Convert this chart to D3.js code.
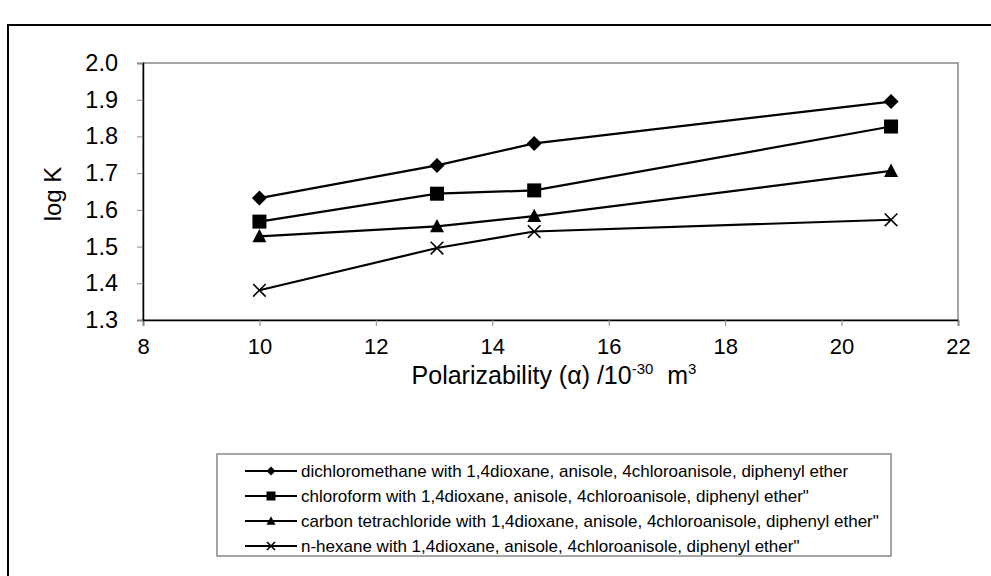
<!DOCTYPE html>
<html>
<head>
<meta charset="utf-8">
<script src="https://cdn.jsdelivr.net/npm/d3@7"></script>
<style>
  body { margin: 0; background: #fff; }
  svg { display: block; font-family: Arial, "Liberation Sans", sans-serif; }
</style>
</head>
<body>
<svg id="chart" width="991" height="576"></svg>
<script>
// Polarizability of the solute (x) against log K for each solvent system
const polarizability = [10.0, 13.05, 14.72, 20.85];
const dichloromethane = [1.632, 1.721, 1.781, 1.895];
const chloroform = [1.568, 1.644, 1.653, 1.827];
const carbonTetrachloride = [1.528, 1.555, 1.583, 1.706];
const nHexane = [1.381, 1.496, 1.541, 1.573];
const xTicks = [8, 10, 12, 14, 16, 18, 20, 22];
const yTicks = [1.3, 1.4, 1.5, 1.6, 1.7, 1.8, 1.9, 2.0];
const seriesNames = [
  "dichloromethane with 1,4dioxane, anisole, 4chloroanisole, diphenyl ether",
  "chloroform with 1,4dioxane, anisole, 4chloroanisole, diphenyl ether\"",
  "carbon tetrachloride with 1,4dioxane, anisole, 4chloroanisole, diphenyl ether\"",
  "n-hexane with 1,4dioxane, anisole, 4chloroanisole, diphenyl ether\""
];
const seriesValues = [dichloromethane, chloroform, carbonTetrachloride, nHexane];
const markerShapes = ["diamond", "square", "triangle", "cross"];

const svg = d3.select("#chart");
const plot = { left: 143, right: 958, top: 63, bottom: 320 };

const x = d3.scaleLinear().domain([8, 22]).range([plot.left, plot.right]);
const y = d3.scaleLinear().domain([1.3, 2.0]).range([plot.bottom, plot.top]);

// outer chart frame
svg.append("rect")
  .attr("x", 8).attr("y", 25).attr("width", 1000).attr("height", 600)
  .attr("fill", "none").attr("stroke", "#000").attr("stroke-width", 2);

// plot area border
svg.append("rect")
  .attr("x", plot.left).attr("y", plot.top)
  .attr("width", plot.right - plot.left).attr("height", plot.bottom - plot.top)
  .attr("fill", "none").attr("stroke", "#888").attr("stroke-width", 1.5);

// axes
const xAxis = svg.append("g")
  .attr("transform", `translate(0,${plot.bottom})`)
  .call(d3.axisBottom(x).tickValues(xTicks).tickSize(6).tickPadding(12).tickFormat(d3.format("d")));
const yAxis = svg.append("g")
  .attr("transform", `translate(${plot.left},0)`)
  .call(d3.axisLeft(y).tickValues(yTicks).tickSize(6).tickPadding(19).tickFormat(d3.format(".1f")));

[xAxis, yAxis].forEach(g => {
  g.select(".domain").attr("stroke", "#000").attr("stroke-width", 1.5);
  g.selectAll(".tick line").attr("stroke", "#888").attr("stroke-width", 1);
  g.selectAll(".tick text").attr("fill", "#000")
    .style("font-family", "Arial, 'Liberation Sans', sans-serif");
});
xAxis.selectAll(".tick text").style("font-size", "22px");
yAxis.selectAll(".tick text").style("font-size", "23.5px");

// axis titles
const xt = svg.append("text")
  .attr("x", 554).attr("y", 384)
  .attr("text-anchor", "middle").style("font-size", "25px").attr("fill", "#000");
xt.append("tspan").text("Polarizability (α) /10");
xt.append("tspan").attr("dy", -10).style("font-size", "15px").text("-30");
xt.append("tspan").attr("dy", 10).text("\u00a0\u00a0m");
xt.append("tspan").attr("dy", -10).style("font-size", "15px").text("3");

svg.append("text")
  .attr("transform", `translate(61,194) rotate(-90)`)
  .attr("text-anchor", "middle").style("font-size", "24px").attr("fill", "#000")
  .text("log K");

// marker drawing
function drawMarker(g, shape, cx, cy, s) {
  if (shape === "diamond") {
    g.append("path").attr("d", `M${cx},${cy - s}L${cx + s},${cy}L${cx},${cy + s}L${cx - s},${cy}Z`).attr("fill", "#000");
  } else if (shape === "square") {
    g.append("rect").attr("x", cx - s).attr("y", cy - s)
      .attr("width", s * 2).attr("height", s * 2).attr("fill", "#000");
  } else if (shape === "triangle") {
    g.append("path").attr("d", `M${cx},${cy - s * 1.05}L${cx + s},${cy + s * 0.85}L${cx - s},${cy + s * 0.85}Z`).attr("fill", "#000");
  } else {
    const c = s * 0.9;
    g.append("path").attr("d", `M${cx - c},${cy - c}L${cx + c},${cy + c}M${cx - c},${cy + c}L${cx + c},${cy - c}`)
      .attr("stroke", "#000").attr("stroke-width", 1.6).attr("fill", "none");
  }
}

const line = d3.line().x(d => x(d[0])).y(d => y(d[1]));
seriesValues.forEach((vals, i) => {
  const pts = polarizability.map((p, j) => [p, vals[j]]);
  const g = svg.append("g");
  g.append("path").datum(pts).attr("d", line)
    .attr("fill", "none").attr("stroke", "#000").attr("stroke-width", 2.2);
  const size = markerShapes[i] === "diamond" ? 7.5 : 7;
  pts.forEach(d => drawMarker(g, markerShapes[i], x(d[0]), y(d[1]), size));
});

// legend
const legend = { x: 217, y: 454, w: 674, h: 102 };
svg.append("rect")
  .attr("x", legend.x).attr("y", legend.y).attr("width", legend.w).attr("height", legend.h)
  .attr("fill", "#fff").attr("stroke", "#888").attr("stroke-width", 1.5);
seriesNames.forEach((name, i) => {
  const cy = legend.y + 17 + i * 25;
  const g = svg.append("g");
  g.append("line").attr("x1", 245).attr("x2", 297).attr("y1", cy).attr("y2", cy)
    .attr("stroke", "#000").attr("stroke-width", 2.2);
  drawMarker(g, markerShapes[i], 271, cy, 4.5);
  g.append("text").attr("x", 301).attr("y", cy + 5.5)
    .style("font-size", "17px").attr("fill", "#000").text(name);
});
</script>
</body>
</html>
